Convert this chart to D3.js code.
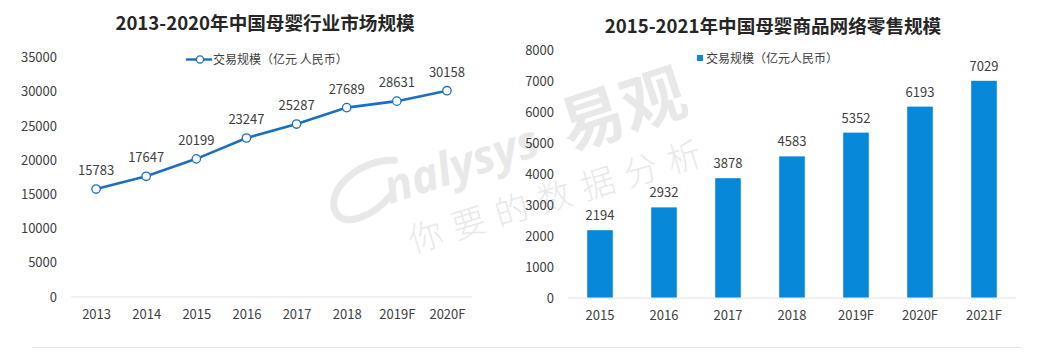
<!DOCTYPE html>
<html><head><meta charset="utf-8">
<script src="https://cdn.jsdelivr.net/npm/d3@7"></script>
<style>
html,body{margin:0;padding:0;background:#fff;}
svg{display:block;font-family:"Noto Sans CJK SC","Noto Sans",sans-serif;}
</style></head>
<body>
<svg id="c" width="1047" height="358"></svg>
<script>
// ---- Data ----
const leftTitle = "2013-2020年中国母婴行业市场规模";
const leftLegend = "交易规模（亿元 人民币）";
const leftYears = ["2013","2014","2015","2016","2017","2018","2019F","2020F"];
const leftValues = [15783,17647,20199,23247,25287,27689,28631,30158];
const leftTicks = [0,5000,10000,15000,20000,25000,30000,35000];

const rightTitle = "2015-2021年中国母婴商品网络零售规模";
const rightLegend = "交易规模（亿元人民币）";
const rightYears = ["2015","2016","2017","2018","2019F","2020F","2021F"];
const rightValues = [2194,2932,3878,4583,5352,6193,7029];
const rightTicks = [0,1000,2000,3000,4000,5000,6000,7000,8000];

const lineColor = "#1b6fc3";
const barColor = "#0788d8";
const textColor = "#404040";

const svg = d3.select("#c");

// ---- Left chart ----
const xL = d3.scalePoint().domain(leftYears).range([71,472]).padding(0.5);
const yL = d3.scaleLinear().domain([0,35000]).range([297,57.6]);

svg.append("text").attr("x",265).attr("y",30).attr("text-anchor","middle")
  .attr("font-size",18.6).attr("font-weight","bold").attr("fill","#262626").text(leftTitle);

const yAxL = svg.append("g").attr("transform","translate(57,0)")
  .call(d3.axisLeft(yL).tickValues(leftTicks).tickSize(0).tickPadding(0).tickFormat(d3.format("d")));
yAxL.select(".domain").remove();
yAxL.selectAll("text").attr("font-size",13).attr("fill",textColor).attr("font-family","Noto Sans CJK SC");

const xAxL = svg.append("g").attr("transform","translate(0,297)")
  .call(d3.axisBottom(xL).tickSize(0).tickPadding(13));
xAxL.select(".domain").remove();
xAxL.selectAll("text").attr("font-size",13).attr("fill",textColor).attr("font-family","Noto Sans CJK SC");
svg.append("line").attr("x1",71).attr("x2",472).attr("y1",yL(0)).attr("y2",yL(0))
  .attr("stroke","#e3e3e3").attr("stroke-width",1);

const line = d3.line().x((d,i)=>xL(leftYears[i])).y(d=>yL(d));
svg.append("path").datum(leftValues).attr("d",line).attr("fill","none")
  .attr("stroke",lineColor).attr("stroke-width",2.6);
svg.selectAll(".pt").data(leftValues).enter().append("circle")
  .attr("cx",(d,i)=>xL(leftYears[i])).attr("cy",d=>yL(d)).attr("r",4.2)
  .attr("fill","#fff").attr("stroke",lineColor).attr("stroke-width",1.3);
svg.selectAll(".lbl").data(leftValues).enter().append("text")
  .attr("x",(d,i)=>xL(leftYears[i])).attr("y",d=>yL(d)-14).attr("text-anchor","middle")
  .attr("font-size",13).attr("fill",textColor).text(d=>d);

// legend left
svg.append("line").attr("x1",186).attr("x2",212).attr("y1",59.5).attr("y2",59.5)
  .attr("stroke",lineColor).attr("stroke-width",2.4);
svg.append("circle").attr("cx",200).attr("cy",59.5).attr("r",3.6)
  .attr("fill","#fff").attr("stroke",lineColor).attr("stroke-width",1.2);
svg.append("text").attr("x",213).attr("y",64).attr("font-size",12).attr("fill",textColor).text(leftLegend);

// ---- Right chart ----
const xR = d3.scaleBand().domain(rightYears).range([568,1016]).paddingInner(0.6).paddingOuter(0.3);
const yR = d3.scaleLinear().domain([0,8000]).range([298,50.8]);

svg.append("text").attr("x",773).attr("y",33).attr("text-anchor","middle")
  .attr("font-size",18.6).attr("font-weight","bold").attr("fill","#262626").text(rightTitle);

const yAxR = svg.append("g").attr("transform","translate(554,0)")
  .call(d3.axisLeft(yR).tickValues(rightTicks).tickSize(0).tickPadding(0).tickFormat(d3.format("d")));
yAxR.select(".domain").remove();
yAxR.selectAll("text").attr("font-size",13).attr("fill",textColor).attr("font-family","Noto Sans CJK SC");

const xAxR = svg.append("g").attr("transform","translate(0,298)")
  .call(d3.axisBottom(xR).tickSize(0).tickPadding(13));
xAxR.select(".domain").remove();
xAxR.selectAll("text").attr("font-size",13).attr("fill",textColor).attr("font-family","Noto Sans CJK SC");

svg.selectAll(".bar").data(rightValues).enter().append("rect")
  .attr("x",(d,i)=>xR(rightYears[i])).attr("width",xR.bandwidth())
  .attr("y",d=>yR(d)).attr("height",d=>yR(0)-yR(d)).attr("fill",barColor);
svg.append("line").attr("x1",568).attr("x2",1016).attr("y1",yR(0)).attr("y2",yR(0))
  .attr("stroke","#e3e3e3").attr("stroke-width",1);
svg.selectAll(".blbl").data(rightValues).enter().append("text")
  .attr("x",(d,i)=>xR(rightYears[i])+xR.bandwidth()/2).attr("y",d=>yR(d)-10).attr("text-anchor","middle")
  .attr("font-size",13).attr("fill",textColor).text(d=>d);

// legend right
svg.append("rect").attr("x",697).attr("y",55).attr("width",6).attr("height",6).attr("fill",barColor);
svg.append("text").attr("x",706).attr("y",63).attr("font-size",12).attr("fill",textColor).text(rightLegend);

// bottom separator
svg.append("line").attr("x1",32).attr("x2",1021).attr("y1",347.5).attr("y2",347.5)
  .attr("stroke","#e2e2e2").attr("stroke-width",1);

// ---- Watermark ----
const wm = svg.append("g").attr("opacity",0.085).attr("fill","#000").attr("pointer-events","none");
const g1 = wm.append("g").attr("transform","translate(365,212) rotate(-18)");
g1.append("path").attr("d","M44,-40 C12,-52 -30,-34 -28,-10 C-26,10 8,6 30,-8")
  .attr("fill","none").attr("stroke","#000").attr("stroke-width",7).attr("stroke-linecap","round");
g1.append("text").attr("x",26).attr("y",0).attr("font-size",46).attr("font-family","Noto Sans")
  .attr("font-weight","bold").attr("font-style","italic").text("nalysys");
g1.append("text").attr("x",213).attr("y",5).attr("font-size",64).attr("font-weight","bold").text("易观");
const g2 = wm.append("g").attr("transform","translate(413,253) rotate(-17)");
g2.append("text").attr("font-size",34).attr("font-weight","300").attr("letter-spacing",11).text("你要的数据分析");
</script>
</body></html>
